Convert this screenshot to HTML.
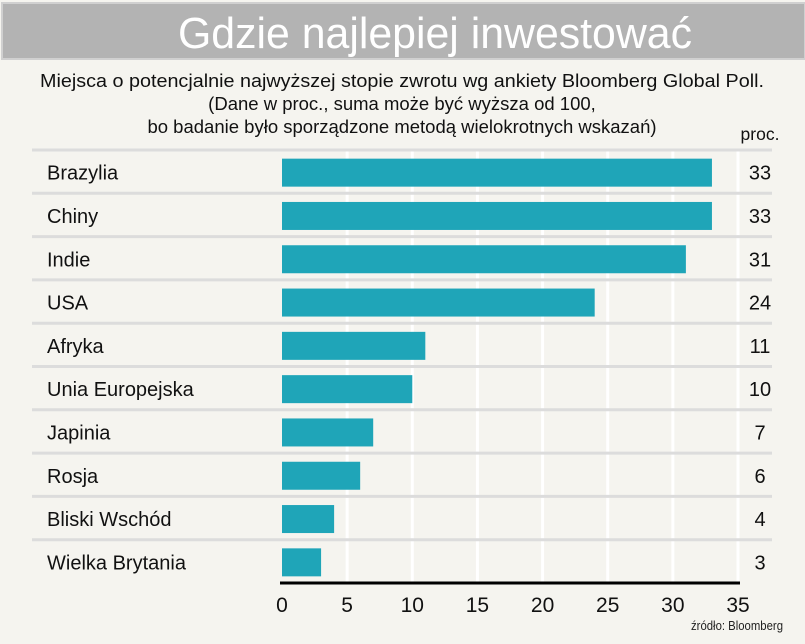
<!DOCTYPE html>
<html><head><meta charset="utf-8"><style>
body{margin:0;background:#f5f4ef;font-family:"Liberation Sans","DejaVu Sans",sans-serif;}
#wrap{position:relative;width:805px;height:644px;overflow:hidden;background:#f5f4ef;}
</style></head><body>
<div id="wrap">
<svg width="805" height="644" id="svg">
<rect x="2" y="3" width="803" height="56" fill="#b3b3b3" stroke="#d0d0d0" stroke-width="2"/>
<text x="435" y="48" text-anchor="middle" font-size="44" textLength="514" lengthAdjust="spacingAndGlyphs" fill="#fff">Gdzie najlepiej inwestować</text>
<g font-size="18.5" fill="#111" text-anchor="middle">
<text x="402" y="87" textLength="724" lengthAdjust="spacingAndGlyphs">Miejsca o potencjalnie najwyższej stopie zwrotu wg ankiety Bloomberg Global Poll.</text>
<text x="402" y="110">(Dane w proc., suma może być wyższa od 100,</text>
<text x="402" y="133">bo badanie było sporządzone metodą wielokrotnych wskazań)</text>
</g>
<text x="760" y="140" font-size="17.5" text-anchor="middle" fill="#111">proc.</text>
<g id="grid"></g><g id="rows"></g><g id="bars"></g>
<line x1="280" y1="583" x2="740" y2="583" stroke="#000" stroke-width="3"/>
<g id="ticks"></g>
<text x="783" y="630" font-size="13" text-anchor="end" textLength="92" lengthAdjust="spacingAndGlyphs" fill="#222">źródło: Bloomberg</text>
</svg>
</div>
<script>
const categories=["Brazylia","Chiny","Indie","USA","Afryka","Unia Europejska","Japinia","Rosja","Bliski Wschód","Wielka Brytania"];
const values=[33,33,31,24,11,10,7,6,4,3];
const ticks=[0,5,10,15,20,25,30,35];
const NS="http://www.w3.org/2000/svg";
const x=v=>282+v*(738-282)/35;
const rowTop=150,rowH=43.3;
const y=i=>rowTop+i*rowH;
function mk(t,a,p){const e=document.createElementNS(NS,t);for(const k in a)e.setAttribute(k,a[k]);document.getElementById(p).appendChild(e);return e;}
ticks.forEach(t=>{
 if(t>0){const g=mk('line',{x1:x(t),x2:x(t),y1:150,y2:582,stroke:'#fff','stroke-width':3},'grid');
 
 }
 const l=mk('text',{x:x(t),y:612,'font-size':21,'text-anchor':'middle',fill:'#111'},'ticks');
 l.textContent=t;
 
 
});
categories.forEach((c,i)=>{
 const s=mk('line',{x1:32,x2:772,y1:y(i),y2:y(i),stroke:'#dcdcdc','stroke-width':3},'rows');
 
 
 const cy=y(i)+rowH/2+1;
 const t=mk('text',{x:47,y:cy+7,'font-size':20,fill:'#111'},'rows');
 t.textContent=c;
 
 
 const b=mk('rect',{x:x(0),y:cy-14,width:x(values[i])-x(0),height:28,fill:'#1fa5b8'},'bars');
 
 
 const v=mk('text',{x:760,y:cy+7,'font-size':20,'text-anchor':'middle',fill:'#111'},'bars');
 v.textContent=values[i];
 
 
});
</script>
</body></html>
